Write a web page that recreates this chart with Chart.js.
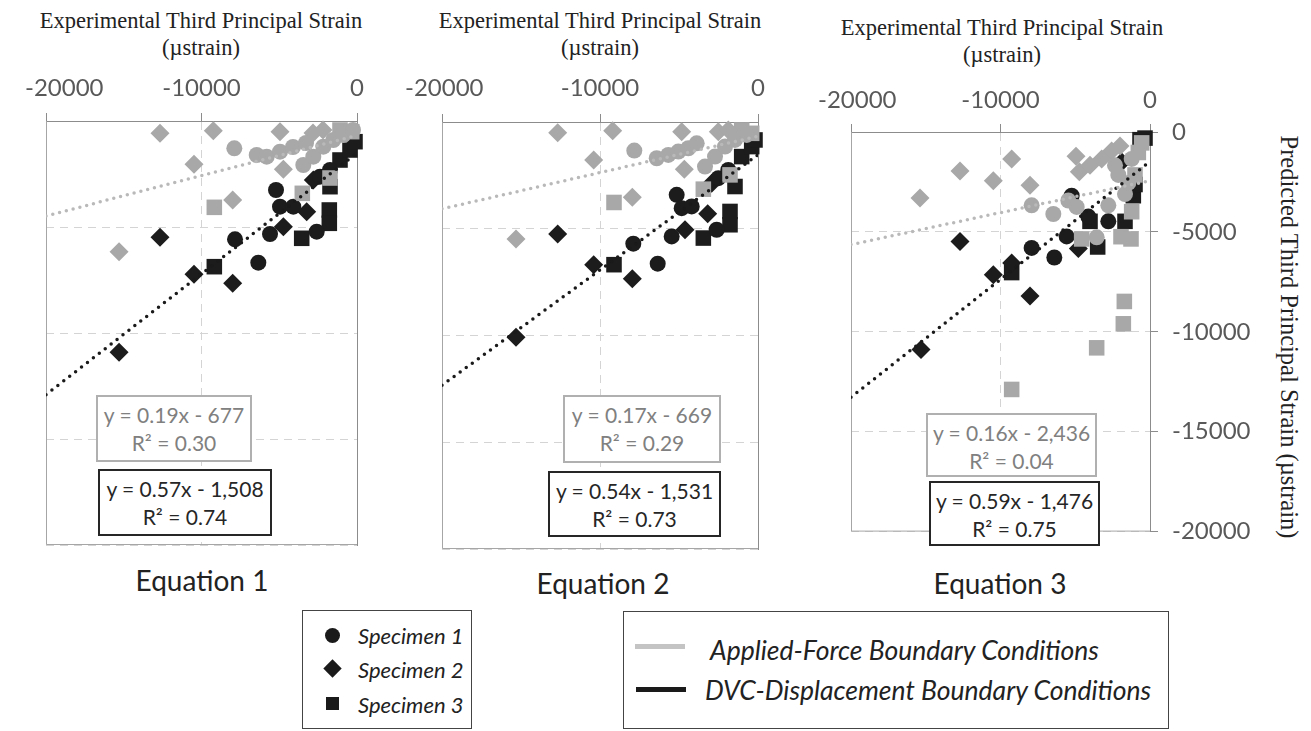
<!DOCTYPE html>
<html>
<head>
<meta charset="utf-8">
<script src="https://cdn.jsdelivr.net/npm/chart.js@4.4.1/dist/chart.umd.min.js"></script>
<style>
  body { margin: 0; background: #fff; }
  #page { position: relative; width: 1311px; height: 731px; overflow: hidden; font-family: Lato, "Open Sans", sans-serif; color: #222; }
  .title { position: absolute; width: 420px; text-align: center; font-family: "Liberation Serif", "Times New Roman", serif; font-size: 22.5px; line-height: 27px; color: #222; }
  .ytitle { position: absolute; left: 1289px; top: 337px; transform: translate(-50%, -50%) rotate(90deg); white-space: nowrap; font-family: "Liberation Serif", "Times New Roman", serif; font-size: 24.5px; color: #222; }
  canvas { position: absolute; }
  .eqbox { position: absolute; box-sizing: border-box; background: #fff; text-align: center; font-size: 21px; line-height: 28px; padding-top: 4px; }
  .eqbox.force { border: 2px solid #b0b0b0; color: #808080; }
  .eqbox.dvc { border: 2px solid #262626; color: #262626; }
  .eqname { position: absolute; width: 240px; text-align: center; font-size: 28px; color: #222; transform: translateY(-50%); }
  .legend { position: absolute; box-sizing: border-box; border: 1.5px solid #444; background: #fff; }
  .legend .txt { position: absolute; font-style: italic; color: #222; transform: translateY(-50%); white-space: nowrap; }
  .mk { position: absolute; background: #1a1a1a; }
</style>
</head>
<body>
<div id="page">
  <div class="title" style="left:-9px;top:7px">Experimental Third Principal Strain<br>(µstrain)</div>
  <div class="title" style="left:390px;top:7px">Experimental Third Principal Strain<br>(µstrain)</div>
  <div class="title" style="left:792px;top:14px">Experimental Third Principal Strain<br>(µstrain)</div>
  <div class="ytitle">Predicted Third Principal Strain (µstrain)</div>

  <canvas id="c1" width="380" height="500" style="left:0px;top:60px"></canvas>
  <canvas id="c2" width="380" height="500" style="left:400px;top:60px"></canvas>
  <canvas id="c3" width="480" height="500" style="left:800px;top:60px"></canvas>

  <div class="eqbox force" style="left:96px;top:395px;width:156px;height:67px">y = 0.19x - 677<br>R² = 0.30</div>
  <div class="eqbox dvc" style="left:98px;top:469px;width:174px;height:67px">y = 0.57x - 1,508<br>R² = 0.74</div>
  <div class="eqbox force" style="left:563px;top:395px;width:158px;height:68px">y = 0.17x - 669<br>R² = 0.29</div>
  <div class="eqbox dvc" style="left:548px;top:471px;width:173px;height:66px">y = 0.54x - 1,531<br>R² = 0.73</div>
  <div class="eqbox force" style="left:926px;top:413px;width:171px;height:64px">y = 0.16x - 2,436<br>R² = 0.04</div>
  <div class="eqbox dvc" style="left:929px;top:481px;width:171px;height:65px">y = 0.59x - 1,476<br>R² = 0.75</div>

  <div class="eqname" style="left:82px;top:580px">Equation 1</div>
  <div class="eqname" style="left:483px;top:583px">Equation 2</div>
  <div class="eqname" style="left:880px;top:583px">Equation 3</div>

  <div class="legend" style="left:302px;top:610px;width:170px;height:119px;font-size:22px">
    <div class="mk" style="left:22px;top:17px;width:15px;height:15px;border-radius:50%"></div>
    <div class="txt" style="left:55px;top:24px">Specimen 1</div>
    <div class="mk" style="left:23px;top:51px;width:13px;height:13px;transform:rotate(45deg)"></div>
    <div class="txt" style="left:55px;top:58px">Specimen 2</div>
    <div class="mk" style="left:23px;top:86px;width:13px;height:13px"></div>
    <div class="txt" style="left:55px;top:93px">Specimen 3</div>
  </div>
  <div class="legend" style="left:623px;top:611px;width:546px;height:118px;font-size:26.5px">
    <div class="mk" style="left:11px;top:32px;width:50px;height:5px;background:#c4c4c4"></div>
    <div class="txt" style="left:86px;top:38px">Applied-Force Boundary Conditions</div>
    <div class="mk" style="left:12px;top:75px;width:50px;height:5px"></div>
    <div class="txt" style="left:81px;top:78px">DVC-Displacement Boundary Conditions</div>
  </div>
</div>

<script>
// axis ticks
const xTicks = [-20000, -10000, 0];
const yTicks = [0, -5000, -10000, -15000, -20000];

// trendlines (y = m x + b)
const forceSlope = [0.19, 0.17, 0.16];
const forceIntercept = [-677, -669, -2436];
const dvcSlope = [0.57, 0.54, 0.59];
const dvcIntercept = [-1508, -1531, -1476];

// Equation 1  [experimental, predicted]
const eq1ForceS1 = [[-7890,-1289],[-6450,-1604],[-5807,-1683],[-4951,-1447],[-4115,-1226],[-3280,-1038],[-3453,-2075],[-2810,-1683],[-2167,-1211],[-1524,-896],[-881,-660],[-257,-425]];
const eq1ForceS2 = [[-12667,-580],[-9240,-457],[-4951,-503],[-10481,-2044],[-4736,-2280],[-7993,-3726],[-15303,-6165],[-2829,-566],[-2186,-425]];
const eq1ForceS3 = [[-9176,-4072],[-3517,-3412],[-1736,-2689],[-1093,-425],[-341,-503]];
const eq1DvcS1 = [[-5208,-3255],[-4951,-4041],[-4096,-4041],[-7845,-5580],[-5594,-5330],[-6346,-6684],[-2591,-5220],[-2379,-2627],[-1736,-2311]];
const eq1DvcS2 = [[-12667,-5486],[-10481,-7233],[-7993,-7657],[-15303,-10911],[-4736,-4984],[-3234,-4277],[-2810,-2783]];
const eq1DvcS3 = [[-9176,-6872],[-3556,-5533],[-1781,-4198],[-1781,-4826],[-1736,-3099],[-1093,-1840],[-450,-1368],[-129,-976]];

// Equation 2
const eq2ForceS1 = [[-7829,-1339],[-6411,-1698],[-5677,-1542],[-5044,-1386],[-4411,-1230],[-3880,-997],[-3354,-2087],[-2721,-1620],[-2089,-1152],[-1456,-841],[-717,-607]];
const eq2ForceS2 = [[-12677,-500],[-9197,-405],[-4829,-452],[-10399,-1776],[-4664,-2212],[-7955,-3520],[-15316,-5483],[-2513,-452],[-1880,-374]];
const eq2ForceS3 = [[-9114,-3769],[-3460,-3146],[-1772,-2477],[-1032,-374],[-399,-530]];
const eq2DvcS1 = [[-5147,-3411],[-4829,-4034],[-4196,-3956],[-7892,-5701],[-5463,-5358],[-6348,-6636],[-2615,-5047],[-2513,-2633],[-1880,-2243]];
const eq2DvcS2 = [[-12677,-5249],[-10399,-6683],[-7955,-7337],[-15316,-10080],[-4620,-5047],[-3184,-4299],[-2931,-2866]];
const eq2DvcS3 = [[-9114,-6683],[-3460,-5436],[-1772,-4190],[-1772,-4813],[-1456,-3022],[-1032,-1620],[-399,-1152],[-190,-841]];

// Equation 3
const eq3ForceS1 = [[-7916,-3670],[-6466,-4103],[-5463,-3430],[-4905,-3751],[-3567,-5272],[-2788,-3670],[-1672,-3109],[-1449,-2548],[-2118,-2148],[-2341,-1667],[-1226,-1346]];
const eq3ForceS2 = [[-15385,-3302],[-12709,-1955],[-10479,-2436],[-9253,-1346],[-8027,-2660],[-4950,-1218],[-4726,-1988],[-4013,-1667],[-3233,-1346],[-2565,-946],[-2007,-705]];
const eq3ForceS3 = [[-9253,-12885],[-3567,-10802],[-1784,-9600],[-1717,-8480],[-4571,-5352],[-1940,-5240],[-1271,-5352],[-1226,-3990],[-1003,-2148],[-781,-1025],[-557,-545]];
const eq3DvcS1 = [[-7916,-5801],[-6400,-6282],[-5575,-5224],[-5240,-3189],[-4125,-4231],[-2788,-4471],[-1449,-3109]];
const eq3DvcS2 = [[-12709,-5481],[-10479,-7148],[-8027,-8206],[-15318,-10882],[-4793,-5834],[-9253,-6555],[-1895,-1507]];
const eq3DvcS3 = [[-9253,-7036],[-3500,-5754],[-4013,-4471],[-1672,-4471],[-1115,-3189],[-1003,-2628],[-669,-385],[-334,-305]];

const GRAY = '#a8a8a8';
const BLACK = '#1c1c1c';
const TICK_FONT = 'Lato';

const panels = [
    { id: 'c1', left: 0, top: 60, w: 380, area: [46, 357, 121, 545], minLeft: 25, gap: 33, yLabels: false,
      force: [eq1ForceS1, eq1ForceS2, eq1ForceS3], dvc: [eq1DvcS1, eq1DvcS2, eq1DvcS3] },
    { id: 'c2', left: 400, top: 60, w: 380, area: [442, 758, 122, 550], minLeft: 5, gap: 34, yLabels: false,
      force: [eq2ForceS1, eq2ForceS2, eq2ForceS3], dvc: [eq2DvcS1, eq2DvcS2, eq2DvcS3] },
    { id: 'c3', left: 800, top: 60, w: 480, area: [851, 1150, 132, 548], minLeft: 18, gap: 32, yLabels: true,
      force: [eq3ForceS1, eq3ForceS2, eq3ForceS3], dvc: [eq3DvcS1, eq3DvcS2, eq3DvcS3] }
];

const shapes = [
    { style: 'circle', r: 8 },
    { style: 'rectRot', r: 9.5 },
    { style: 'rect', r: 11 }
];

function pts(arr) {
    return arr.map(p => ({ x: p[0], y: p[1] }));
}

function trend(m, b) {
    return [{ x: xTicks[0], y: m * xTicks[0] + b }, { x: 0, y: b }];
}

// left + bottom edge of the plot area
const frame = {
    id: 'frame',
    beforeDatasetsDraw(chart) {
        const a = chart.chartArea, ctx = chart.ctx;
        ctx.save();
        ctx.strokeStyle = '#a6a6a6';
        ctx.lineWidth = 1;
        ctx.beginPath();
        ctx.moveTo(a.left + 0.5, a.top);
        ctx.lineTo(a.left + 0.5, a.bottom - 0.5);
        ctx.lineTo(a.right, a.bottom - 0.5);
        ctx.stroke();
        ctx.restore();
    }
};

// excel style top labels, first one pushed inside the chart
const xLabels = {
    id: 'xLabels',
    afterDraw(chart, args, opts) {
        const ctx = chart.ctx, sx = chart.scales.x;
        ctx.save();
        ctx.font = '24px ' + TICK_FONT;
        ctx.fillStyle = '#595959';
        ctx.textBaseline = 'middle';
        ctx.textAlign = 'left';
        xTicks.forEach(v => {
            const label = String(v);
            const w = ctx.measureText(label).width;
            let x = sx.getPixelForValue(v) - w / 2;
            if (x < opts.minLeft) x = opts.minLeft;
            ctx.fillText(label, x, chart.chartArea.top - opts.gap);
        });
        ctx.restore();
    }
};

panels.forEach((p, i) => {
    const [al, ar, at, ab] = p.area;
    const yWidth = p.yLabels ? 110 : 0;
    const datasets = [];

    datasets.push({ type: 'line', data: trend(forceSlope[i], forceIntercept[i]), borderColor: '#b9b9b9',
        borderWidth: 3.5, borderDash: [0, 7], borderCapStyle: 'round', pointRadius: 0, order: 0 });
    datasets.push({ type: 'line', data: trend(dvcSlope[i], dvcIntercept[i]), borderColor: '#1a1a1a',
        borderWidth: 3.5, borderDash: [0, 7.5], borderCapStyle: 'round', pointRadius: 0, order: 0 });

    p.force.forEach((arr, k) => {
        datasets.push({ data: pts(arr), pointStyle: shapes[k].style, pointRadius: shapes[k].r,
            backgroundColor: GRAY, borderWidth: 0, clip: false, order: 1 });
    });
    p.dvc.forEach((arr, k) => {
        datasets.push({ data: pts(arr), pointStyle: shapes[k].style, pointRadius: shapes[k].r,
            backgroundColor: BLACK, borderWidth: 0, clip: false, order: 2 });
    });

    new Chart(document.getElementById(p.id), {
        type: 'scatter',
        data: { datasets },
        plugins: [frame, xLabels],
        options: {
            responsive: false,
            animation: false,
            layout: { padding: { left: al - p.left, right: p.w - (ar - p.left) - yWidth, top: 0, bottom: 500 - (ab - p.top) } },
            plugins: {
                legend: { display: false },
                tooltip: { enabled: false },
                xLabels: { minLeft: p.minLeft, gap: p.gap }
            },
            scales: {
                x: {
                    type: 'linear', position: 'top', min: xTicks[0], max: 0,
                    afterFit: s => { s.height = at - p.top; },
                    ticks: { stepSize: 10000, display: false },
                    grid: { color: '#d4d4d4', tickColor: '#8c8c8c', tickLength: 8 },
                    border: { color: '#8c8c8c', width: 1, dash: [8, 6] }
                },
                y: {
                    type: 'linear', position: 'right', min: -20000, max: 0,
                    afterFit: s => { s.width = yWidth; },
                    ticks: {
                        stepSize: 5000, display: p.yLabels, padding: 14, color: '#595959',
                        font: { family: TICK_FONT, size: 24 },
                        callback: v => yTicks.includes(v) ? String(v) : ''
                    },
                    grid: { color: '#d4d4d4', tickColor: '#8c8c8c', tickLength: 8, drawTicks: p.yLabels },
                    border: { color: '#8c8c8c', width: 1, dash: [8, 6] }
                }
            }
        }
    });
});
</script>
</body>
</html>
